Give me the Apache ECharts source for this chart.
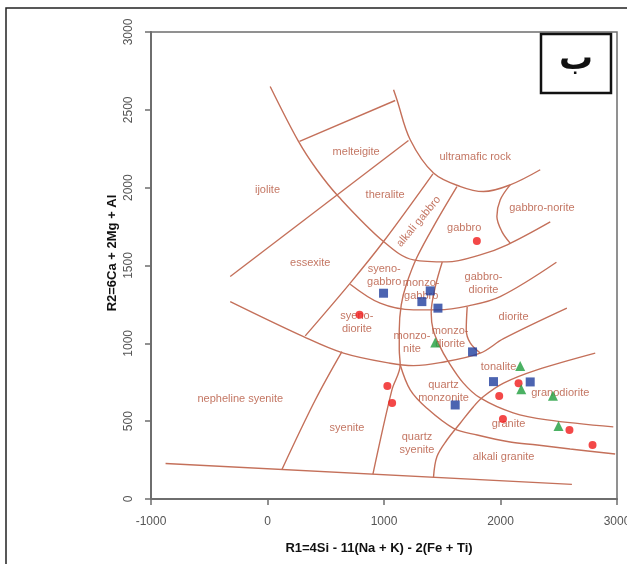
<!DOCTYPE html>
<html>
<head>
<meta charset="utf-8">
<script src="https://cdn.jsdelivr.net/npm/echarts@6/dist/echarts.min.js"></script>
<style>html,body{margin:0;padding:0;background:#fff;overflow:hidden;}#chart{width:627px;height:564px;}</style>
</head>
<body>
<div id="chart"></div>
<script>
// ---- axis ranges / ticks ----
const xTicks = [-1000, 0, 1000, 2000, 3000];
const yTicks = [0, 500, 1000, 1500, 2000, 2500, 3000];

// ---- field boundary lines (R1, R2) ----
const lineBase = [[-875, 228], [2613, 94]];
const lineNephSyenite = [[124, 190], [410, 636], [639, 947]];
const lineLowerArc = [[-320, 1268], [309, 1043], [652, 937], [1053, 872], [1253, 857], [1482, 876], [1826, 937], [2026, 1030], [2570, 1226]];
const lineMiddleArc = [[710, 1380], [967, 1258], [1253, 1215], [1468, 1215], [1725, 1241], [1997, 1300], [2480, 1521]];
const lineUpperArc = [[23, 2650], [266, 2297], [424, 2115], [609, 1943], [996, 1654], [1253, 1536], [1540, 1523], [1826, 1568], [2058, 1633], [2427, 1780]];
const lineUltramafic = [[1082, 2629], [1111, 2565], [1225, 2308], [1425, 2094], [1657, 2007], [1854, 1975], [2083, 2018], [2341, 2115]];
const lineMelteigiteTop = [[275, 2297], [1096, 2560]];
const lineIjolite = [[-320, 1429], [1210, 2303]];
const lineAlkGabbroLeft = [[324, 1048], [710, 1387], [996, 1654], [1420, 2089]];
const lineAlkGabbroRight = [[1626, 2007], [1457, 1793], [1285, 1556], [1191, 1376], [1148, 1247], [1131, 1086], [1131, 958], [1139, 862], [1068, 701], [905, 160]];
const lineMonzodiorite = [[1500, 1523], [1440, 1363], [1405, 1196], [1422, 1086], [1482, 977], [1543, 893], [1680, 746], [1826, 649], [2109, 553], [2401, 508], [2968, 463]];
const lineAlkGranite = [[1139, 862], [1225, 701], [1368, 583], [1597, 454], [1800, 411], [2083, 366], [2315, 347], [2598, 321], [2984, 289]];
const lineTonalite = [[1425, 140], [1454, 272], [1540, 379], [1654, 487], [1768, 593], [1854, 658], [2026, 744], [2313, 829], [2813, 937]];
const lineDiorite = [[1714, 1234], [1706, 1086], [1740, 1003], [1826, 938]];
const lineGabbroNorite = [[2083, 2018], [1998, 1922], [1969, 1815], [2012, 1718], [2083, 1644]];

const straightLines = [lineBase, lineMelteigiteTop, lineIjolite];
const curvedLines = [lineNephSyenite, lineLowerArc, lineMiddleArc, lineUpperArc, lineUltramafic,
  lineAlkGabbroLeft, lineAlkGabbroRight, lineMonzodiorite, lineAlkGranite, lineTonalite, lineDiorite, lineGabbroNorite];

// ---- samples ----
const redCircles = [[1797, 1658], [790, 1183], [1029, 726], [1070, 617], [1989, 662], [2155, 744], [2021, 514], [2592, 444], [2790, 347]];
const blueSquares = [[996, 1322], [1397, 1337], [1325, 1268], [1463, 1226], [1760, 945], [1940, 754], [2255, 752], [1611, 604]];
const greenTriangles = [[1440, 1005], [2169, 855], [2178, 705], [2450, 664], [2498, 469]];

// ---- field names ----
const fieldNames = ['melteigite', 'ultramafic rock', 'ijolite', 'theralite', 'alkali gabbro', 'gabbro', 'gabbro-norite', 'essexite',
  'syeno-\ngabbro', 'monzo-\ngabbro', 'gabbro-\ndiorite', 'diorite', 'syeno-\ndiorite', 'monzo-\nnite', 'monzo-\ndiorite', 'tonalite',
  'quartz\nmonzonite', 'granodiorite', 'granite', 'nepheline syenite', 'syenite', 'quartz\nsyenite', 'alkali granite'];
const fieldX = [761, 1783, 0, 1010, 1297, 1688, 2355, 367, 1002, 1319, 1854, 2112, 767, 1240, 1568, 1983, 1511, 2513, 2069, -234, 682, 1283, 2026];
const fieldY = [2232, 2197, 1982, 1954, 1782, 1739, 1869, 1515, 1433, 1343, 1387, 1172, 1131, 1003, 1035, 850, 690, 683, 480, 641, 454, 355, 268];

const xTitle = 'R1=4Si - 11(Na + K) - 2(Fe + Ti)';
const yTitle = 'R2=6Ca + 2Mg + Al';
const panelLetter = 'ب';

const LINE_COLOR = '#c4705a';
const TEXT_COLOR = '#b4533b';
const NARROW = '"Liberation Sans Narrow", "Arial Narrow", "Liberation Sans", sans-serif';

const series = [];
straightLines.forEach(function (d) {
  series.push({ type: 'line', data: d, showSymbol: false, silent: true, smooth: false,
    lineStyle: { color: LINE_COLOR, width: 1.4 }, z: 2 });
});
curvedLines.forEach(function (d) {
  series.push({ type: 'line', data: d, showSymbol: false, silent: true, smooth: 0.35,
    lineStyle: { color: LINE_COLOR, width: 1.4 }, z: 2 });
});
series.push({
  type: 'scatter', silent: true, symbolSize: 0, z: 3,
  data: fieldNames.map(function (n, i) {
    const item = { value: [fieldX[i], fieldY[i]], name: n };
    if (n === 'alkali gabbro') item.label = { rotate: 50 };
    return item;
  }),
  label: { show: true, position: 'inside', formatter: '{b}', color: TEXT_COLOR, fontSize: 11,
    fontFamily: NARROW, lineHeight: 13 }
});
series.push({ type: 'scatter', data: redCircles, symbol: 'circle', symbolSize: 8, z: 5,
  itemStyle: { color: '#f01a1a' } });
series.push({ type: 'scatter', data: blueSquares, symbol: 'rect', symbolSize: 9, z: 5,
  itemStyle: { color: '#1f3d9e' } });
series.push({ type: 'scatter', data: greenTriangles, symbol: 'triangle', symbolSize: 10, z: 5,
  itemStyle: { color: '#1e9e3c' } });

const plain = function (v) { return String(v); };

const chart = echarts.init(document.getElementById('chart'), null, { renderer: 'canvas', width: 627, height: 564 });
chart.setOption({
  animation: false,
  backgroundColor: '#fff',
  grid: { left: 151, width: 466, top: 32, height: 467, show: true, borderColor: '#6e6e6e', borderWidth: 1.5,
    containLabel: false, outerBoundsMode: 'none' },
  xAxis: {
    type: 'value', min: xTicks[0], max: xTicks[xTicks.length - 1], interval: 1000,
    splitLine: { show: false },
    axisLine: { show: true, onZero: false, lineStyle: { color: '#6e6e6e', width: 2 } },
    axisTick: { show: true, length: 6, lineStyle: { color: '#6e6e6e', width: 1.5 } },
    axisLabel: { color: '#555', fontSize: 12, fontFamily: NARROW, margin: 17, formatter: plain }
  },
  yAxis: {
    type: 'value', min: yTicks[0], max: yTicks[yTicks.length - 1], interval: 500,
    splitLine: { show: false },
    axisLine: { show: true, onZero: false, lineStyle: { color: '#6e6e6e', width: 2 } },
    axisTick: { show: true, length: 6, lineStyle: { color: '#6e6e6e', width: 1.5 } },
    axisLabel: { color: '#555', fontSize: 12, fontFamily: NARROW, rotate: 90, margin: 16, formatter: plain }
  },
  series: series,
  graphic: [
    { type: 'rect', z: 0, silent: true, shape: { x: 6, y: 8, width: 700, height: 700 },
      style: { fill: 'none', stroke: '#222', lineWidth: 1.5 } },
    { type: 'rect', z: 10, silent: true, shape: { x: 541, y: 34, width: 70, height: 59 },
      style: { fill: '#fff', stroke: '#111', lineWidth: 2.5 } },
    { type: 'text', z: 11, silent: true, x: 576, y: 60,
      style: { text: panelLetter, fill: '#111', font: 'bold 34px "DejaVu Sans", sans-serif', textAlign: 'center', textVerticalAlign: 'middle' } },
    { type: 'text', z: 11, silent: true, x: 379, y: 548,
      style: { text: xTitle, fill: '#111', font: 'bold 13px "Liberation Sans", Arial, sans-serif', textAlign: 'center', textVerticalAlign: 'middle' } },
    { type: 'text', z: 11, silent: true, x: 112, y: 253, rotation: Math.PI / 2,
      style: { text: yTitle, fill: '#111', font: 'bold 13px "Liberation Sans", Arial, sans-serif', textAlign: 'center', textVerticalAlign: 'middle' } }
  ]
});
</script>
</body>
</html>
